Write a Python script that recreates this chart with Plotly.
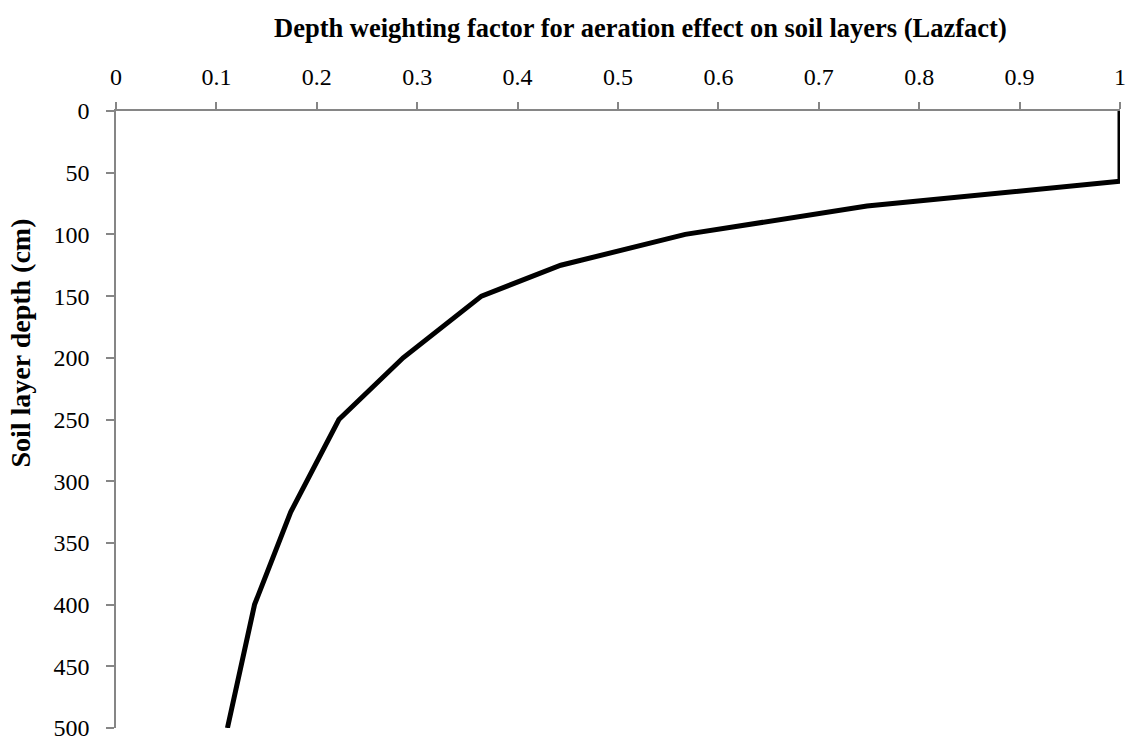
import plotly.graph_objects as go

# Data
lazfact = [1.0, 1.0, 0.748, 0.567, 0.443, 0.364, 0.286, 0.222, 0.174, 0.138, 0.111]
depth_cm = [0, 57, 77, 100, 125, 150, 200, 250, 325, 400, 500]

x_ticks = [0, 0.1, 0.2, 0.3, 0.4, 0.5, 0.6, 0.7, 0.8, 0.9, 1]
x_tick_labels = ["0", "0.1", "0.2", "0.3", "0.4", "0.5", "0.6", "0.7", "0.8", "0.9", "1"]
y_ticks = [0, 50, 100, 150, 200, 250, 300, 350, 400, 450, 500]

x_title = "Depth weighting factor for aeration effect on soil layers (Lazfact)"
y_title = "Soil layer depth (cm)"

FONT = "Liberation Serif, Times New Roman, serif"
AXIS_COLOR = "#868686"

fig = go.Figure()
fig.add_trace(go.Scatter(
    x=lazfact, y=depth_cm, mode="lines",
    line=dict(color="black", width=5),
    showlegend=False, hoverinfo="x+y",
))

fig.update_layout(
    width=1132, height=747,
    margin=dict(l=116, r=6, t=111, b=11),
    paper_bgcolor="white", plot_bgcolor="white",
    font=dict(family=FONT, size=24, color="black"),
)

fig.update_xaxes(
    side="top", range=[0, 1], tickvals=x_ticks, ticktext=x_tick_labels,
    showgrid=False, zeroline=False,
    showline=True, linecolor=AXIS_COLOR, linewidth=1.5,
    ticks="outside", ticklen=7, tickcolor=AXIS_COLOR, tickwidth=1.5,
    ticklabelstandoff=8, ticklabeloverflow="allow",
    tickfont=dict(family=FONT, size=24, color="black"),
)
fig.update_yaxes(
    range=[500, 0], tickvals=y_ticks,
    showgrid=False, zeroline=False,
    showline=True, linecolor=AXIS_COLOR, linewidth=1.5,
    ticks="outside", ticklen=8, tickcolor=AXIS_COLOR, tickwidth=1.5,
    ticklabelstandoff=12, ticklabeloverflow="allow",
    tickfont=dict(family=FONT, size=24, color="black"),
)

fig.add_annotation(
    text="<b>" + x_title + "</b>", xref="paper", yref="paper",
    x=0.522, y=1.1344, xanchor="center", yanchor="middle", showarrow=False,
    font=dict(family=FONT, size=26.5, color="black"),
)
fig.add_annotation(
    text="<b>" + y_title + "</b>", xref="paper", yref="paper",
    x=-0.095, y=0.624, xanchor="center", yanchor="middle", showarrow=False,
    textangle=-90,
    font=dict(family=FONT, size=28, color="black"),
)

fig.write_html("out.html")
